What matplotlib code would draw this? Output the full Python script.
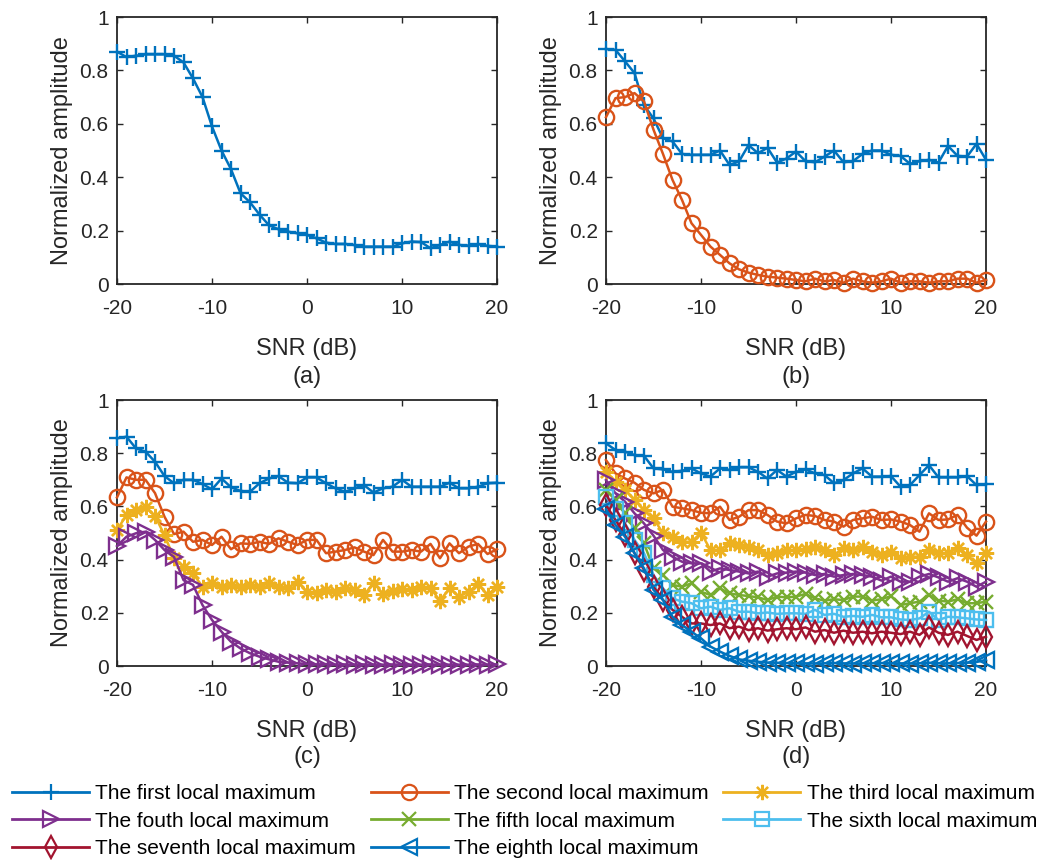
import numpy as np
import matplotlib
matplotlib.use("Agg")
import matplotlib.pyplot as plt
from matplotlib.lines import Line2D

plt.rcParams['font.family'] = ['Liberation Sans', 'DejaVu Sans']

snr = np.arange(-20, 21)

# (a)
a_first = [0.87, 0.85, 0.855, 0.86, 0.86, 0.86, 0.855, 0.83, 0.77, 0.70, 0.59, 0.50, 0.43, 0.34, 0.306, 0.26, 0.22, 0.205, 0.196, 0.19,
           0.184, 0.171, 0.155, 0.15, 0.15, 0.146, 0.14, 0.14, 0.14, 0.14, 0.152, 0.159, 0.157, 0.134, 0.146, 0.159, 0.146, 0.144, 0.149, 0.143, 0.14]

# (b)
b_first = [0.88, 0.877, 0.834, 0.79, 0.67, 0.62, 0.546, 0.534, 0.487, 0.484, 0.484, 0.484, 0.50, 0.446, 0.459, 0.52, 0.49, 0.51, 0.455, 0.47,
           0.496, 0.46, 0.456, 0.477, 0.50, 0.456, 0.46, 0.487, 0.50, 0.50, 0.484, 0.48, 0.45, 0.46, 0.465, 0.455, 0.517, 0.48, 0.477, 0.525, 0.465]
b_second = [0.625, 0.696, 0.70, 0.715, 0.684, 0.578, 0.487, 0.39, 0.315, 0.2275, 0.184, 0.14, 0.109, 0.0775, 0.055, 0.0425, 0.034, 0.0275, 0.024, 0.02,
            0.015, 0.01, 0.02, 0.01, 0.015, 0.005, 0.02, 0.01, 0.005, 0.01, 0.02, 0.005, 0.01, 0.01, 0.005, 0.01, 0.01, 0.02, 0.02, 0.005, 0.015]

# (c)
c_first = [0.856, 0.862, 0.818, 0.806, 0.768, 0.714, 0.687, 0.70, 0.70, 0.684, 0.664, 0.705, 0.672, 0.658, 0.655, 0.687, 0.705, 0.714, 0.689, 0.687,
           0.709, 0.709, 0.687, 0.668, 0.655, 0.668, 0.68, 0.652, 0.668, 0.674, 0.70, 0.674, 0.674, 0.674, 0.674, 0.689, 0.668, 0.668, 0.674, 0.687, 0.689]
c_second = [0.634, 0.709, 0.70, 0.70, 0.65, 0.561, 0.496, 0.505, 0.467, 0.474, 0.455, 0.486, 0.439, 0.461, 0.459, 0.467, 0.459, 0.48, 0.467, 0.455,
            0.474, 0.474, 0.424, 0.43, 0.436, 0.446, 0.43, 0.417, 0.474, 0.43, 0.43, 0.436, 0.43, 0.459, 0.405, 0.461, 0.424, 0.449, 0.459, 0.421, 0.439]
c_third = [0.511, 0.568, 0.586, 0.596, 0.564, 0.492, 0.405, 0.373, 0.348, 0.298, 0.311, 0.298, 0.305, 0.298, 0.305, 0.298, 0.311, 0.298, 0.292, 0.317,
           0.279, 0.276, 0.286, 0.279, 0.292, 0.286, 0.267, 0.313, 0.271, 0.283, 0.289, 0.286, 0.298, 0.292, 0.246, 0.292, 0.261, 0.279, 0.308, 0.267, 0.298]
c_fourth = [0.451, 0.486, 0.499, 0.505, 0.474, 0.436, 0.41, 0.323, 0.305, 0.229, 0.173, 0.129, 0.091, 0.066, 0.048, 0.035, 0.025, 0.016, 0.0125, 0.01,
            0.008, 0.006, 0.007, 0.005, 0.006, 0.005, 0.006, 0.005, 0.005, 0.006, 0.005, 0.005, 0.005, 0.006, 0.005, 0.005, 0.005, 0.005, 0.006, 0.005, 0.006]

# (d)
d_first = [0.837, 0.812, 0.806, 0.793, 0.79, 0.743, 0.739, 0.73, 0.734, 0.743, 0.724, 0.712, 0.743, 0.737, 0.747, 0.747, 0.73, 0.705, 0.737, 0.712,
           0.73, 0.739, 0.724, 0.718, 0.687, 0.699, 0.724, 0.743, 0.712, 0.712, 0.714, 0.674, 0.68, 0.718, 0.755, 0.709, 0.709, 0.709, 0.714, 0.68, 0.684]
d_second = [0.774, 0.724, 0.705, 0.689, 0.662, 0.649, 0.662, 0.599, 0.593, 0.586, 0.576, 0.574, 0.599, 0.549, 0.561, 0.586, 0.586, 0.568, 0.543, 0.536,
            0.555, 0.568, 0.564, 0.549, 0.543, 0.524, 0.549, 0.555, 0.561, 0.549, 0.551, 0.543, 0.53, 0.505, 0.574, 0.549, 0.551, 0.568, 0.52, 0.49, 0.543]
d_third = [0.73, 0.693, 0.662, 0.624, 0.586, 0.555, 0.499, 0.486, 0.467, 0.467, 0.501, 0.436, 0.436, 0.461, 0.455, 0.449, 0.436, 0.417, 0.424, 0.436,
           0.436, 0.439, 0.449, 0.436, 0.417, 0.442, 0.436, 0.449, 0.43, 0.417, 0.43, 0.405, 0.411, 0.411, 0.436, 0.424, 0.424, 0.442, 0.417, 0.386, 0.424]
d_fourth = [0.699, 0.649, 0.618, 0.574, 0.536, 0.49, 0.436, 0.411, 0.392, 0.386, 0.386, 0.355, 0.367, 0.361, 0.355, 0.348, 0.355, 0.336, 0.348, 0.351,
            0.355, 0.351, 0.342, 0.346, 0.336, 0.342, 0.346, 0.342, 0.336, 0.321, 0.336, 0.317, 0.317, 0.336, 0.346, 0.333, 0.317, 0.33, 0.317, 0.298, 0.317]
d_fifth = [0.662, 0.624, 0.574, 0.518, 0.461, 0.367, 0.342, 0.305, 0.298, 0.311, 0.279, 0.267, 0.292, 0.273, 0.267, 0.263, 0.258, 0.248, 0.261, 0.258,
           0.261, 0.271, 0.254, 0.246, 0.251, 0.248, 0.261, 0.261, 0.246, 0.251, 0.263, 0.229, 0.236, 0.242, 0.267, 0.246, 0.242, 0.251, 0.236, 0.236, 0.242]
d_sixth = [0.637, 0.589, 0.536, 0.474, 0.424, 0.342, 0.292, 0.254, 0.242, 0.236, 0.217, 0.223, 0.211, 0.217, 0.204, 0.204, 0.198, 0.201, 0.196, 0.198,
           0.198, 0.196, 0.211, 0.192, 0.196, 0.185, 0.188, 0.185, 0.192, 0.183, 0.183, 0.175, 0.173, 0.179, 0.204, 0.173, 0.185, 0.183, 0.179, 0.175, 0.173]
d_seventh = [0.605, 0.549, 0.492, 0.424, 0.361, 0.298, 0.248, 0.211, 0.185, 0.16, 0.16, 0.154, 0.16, 0.142, 0.148, 0.135, 0.142, 0.133, 0.138, 0.142,
             0.138, 0.145, 0.129, 0.135, 0.125, 0.133, 0.125, 0.129, 0.123, 0.129, 0.125, 0.12, 0.129, 0.117, 0.145, 0.125, 0.117, 0.129, 0.113, 0.098, 0.11]
d_eighth = [0.589, 0.53, 0.486, 0.424, 0.367, 0.286, 0.248, 0.185, 0.154, 0.129, 0.104, 0.073, 0.054, 0.038, 0.025, 0.02, 0.016, 0.013, 0.012, 0.011,
            0.01, 0.01, 0.009, 0.01, 0.011, 0.01, 0.009, 0.01, 0.01, 0.011, 0.01, 0.01, 0.009, 0.01, 0.012, 0.01, 0.01, 0.011, 0.012, 0.015, 0.023]

labels = ['The first local maximum', 'The second local maximum', 'The third local maximum',
          'The fouth local maximum', 'The fifth local maximum', 'The sixth local maximum',
          'The seventh local maximum', 'The eighth local maximum']
colors = ['#0072BD', '#D95319', '#EDB120', '#7E2F8E', '#77AC30', '#4DBEEE', '#A2142F', '#0072BD']
markers = ['+', 'o', (8, 2, 0), '>', 'x', 's', 'd', '<']
msizes = [12, 11, 11, 11, 10, 9.5, 11, 11]

panels = [
    ('(a)', [a_first]),
    ('(b)', [b_first, b_second]),
    ('(c)', [c_first, c_second, c_third, c_fourth]),
    ('(d)', [d_first, d_second, d_third, d_fourth, d_fifth, d_sixth, d_seventh, d_eighth]),
]

W, H = 1060, 860
# axes boxes in pixels: left, top, right, bottom
boxes = [(117, 17, 497, 284), (606, 17, 986, 284), (117, 400, 497, 666), (606, 400, 986, 666)]
tag_y = [377, 377, 757, 757]

fig = plt.figure(figsize=(W / 100, H / 100), dpi=100)
dark = '#262626'

for (tag, series), (l, t, r, b), ty in zip(panels, boxes, tag_y):
    ax = fig.add_axes([l / W, 1 - b / H, (r - l) / W, (b - t) / H])
    for i, vals in enumerate(series):
        ax.plot(snr, vals, color=colors[i], marker=markers[i], ms=msizes[i], mfc='none',
                mew=1.7, lw=1.8, clip_on=False, zorder=3)
    ax.set_xlim(-20, 20)
    ax.set_ylim(0, 1)
    ax.set_xticks([-20, -10, 0, 10, 20])
    ax.set_xticklabels(['-20', '-10', '0', '10', '20'])
    ax.set_yticks([0, 0.2, 0.4, 0.6, 0.8, 1])
    ax.set_yticklabels(['0', '0.2', '0.4', '0.6', '0.8', '1'])
    ax.tick_params(direction='in', length=4.5, width=1.0, top=True, right=True,
                   labelsize=15, colors=dark)
    ax.tick_params(axis='x', pad=11)
    ax.tick_params(axis='y', pad=6)
    for sp in ax.spines.values():
        sp.set_color(dark)
        sp.set_linewidth(1.3)
    ax.set_xlabel('SNR (dB)', fontsize=17, color=dark, labelpad=14)
    ax.set_ylabel('Normalized amplitude', fontsize=17, color=dark, labelpad=5)
    fig.text((l + r) / 2 / W, 1 - ty / H, tag, fontsize=17, color=dark, ha='center', va='center')

handles = [Line2D([], [], color=colors[i], marker=markers[i], ms=msizes[i], mfc='none',
                  mew=1.6, lw=2.0) for i in range(8)]
order = [0, 3, 6, 1, 4, 7, 2, 5]
fig.legend([handles[i] for i in order], [labels[i] for i in order], ncol=3,
           loc='upper left', bbox_to_anchor=(12 / W, 1 - 784 / H), frameon=False,
           fontsize=15, handlelength=3.7, handletextpad=0.3, columnspacing=0.7,
           labelspacing=0.42, borderpad=0, borderaxespad=0)

fig.savefig('out.png', dpi=100)
